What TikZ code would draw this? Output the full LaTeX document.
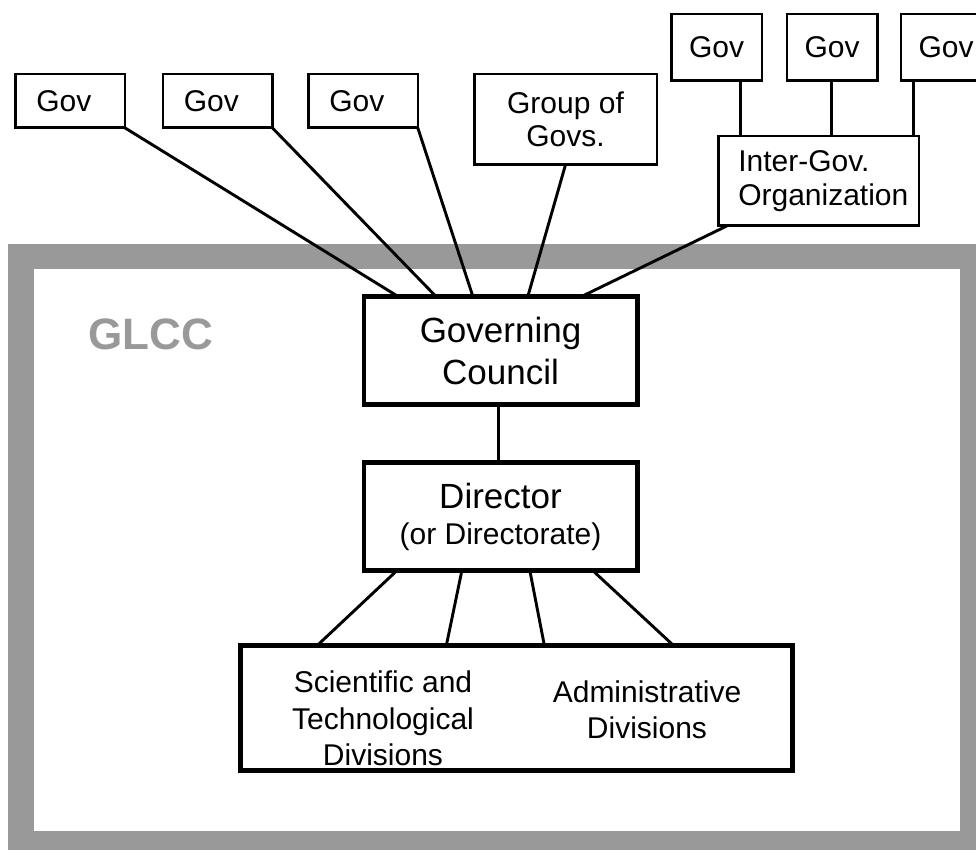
\documentclass[tikz,border=0pt]{standalone}
\usepackage{fontspec}
\setmainfont{Liberation Sans}
\definecolor{glccgray}{RGB}{153,153,153}
\begin{document}
\begin{tikzpicture}[x=1pt,y=-1pt,
  thinbox/.style={draw, line width=2.5pt, fill=white, inner sep=0pt, outer sep=0pt, font=\fontsize{30}{33.5}\selectfont},
  thickbox/.style={draw, line width=4.7pt, fill=white, inner sep=0pt, outer sep=0pt},
  govl/.style={thinbox, minimum height=53.5pt, text width=67.5pt, inner xsep=21pt, align=left},
  govr/.style={thinbox, minimum width=90.5pt, minimum height=66.5pt},
  divtext/.style={align=center, inner sep=0pt, font=\fontsize{30}{36.5}\selectfont},
  conn/.style={line width=2.9pt}]
\useasboundingbox (0,0) rectangle (976,850);
\clip (0,0) rectangle (976,850);
\fill[white] (0,0) rectangle (976,850);
% GLCC frame
\fill[glccgray] (8,244) rectangle (990,870);
\fill[white] (34,269) rectangle (960,831);
\node[anchor=west, inner sep=0pt, text=glccgray, font=\bfseries\fontsize{44}{50}\selectfont] (glcc) at (88,334) {GLCC};
% main boxes
\node[thickbox, minimum width=273.3pt, minimum height=108.3pt, align=center, font=\fontsize{35}{42}\selectfont] (gc) at (500.5,350.5) {Governing\\Council};
\node[thickbox, minimum width=273.3pt, minimum height=108.3pt, align=center, font=\fontsize{35}{36}\selectfont] (dir) at (500.5,516.5) {Director\\{\fontsize{30}{36}\selectfont (or Directorate)}};
\node[thickbox, minimum width=552.3pt, minimum height=125.3pt] (div) at (516.5,708) {};
\node[divtext] (sci) at (383,718.5) {Scientific and\\Technological\\Divisions};
\node[divtext] (adm) at (647,710) {Administrative\\Divisions};
% governments
\node[govl] (g1) at (70,101) {Gov};
\node[govl] (g2) at (217.5,101) {Gov};
\node[govl] (g3) at (363,101) {Gov};
\node[thinbox, minimum width=182.5pt, minimum height=90.5pt, align=center] (g4) at (565.5,119.5) {Group of\\Govs.};
\node[govr] (ga) at (716.5,47.5) {Gov};
\node[govr] (gb) at (832,47.5) {Gov};
\node[govr] (gcc) at (946,47.5) {Gov};
\node[thinbox, minimum height=89.5pt, text width=160.5pt, inner xsep=20pt, align=left] (ig) at (818.5,181) {Inter-Gov.\\Organization};
% connectors to the Governing Council
\draw[conn] (g1.south east) -- ([xshift=34pt]gc.north west);
\draw[conn] (g2.south east) -- ([xshift=72pt]gc.north west);
\draw[conn] (g3.south east) -- ([xshift=109pt]gc.north west);
\draw[conn] (g4.south) -- ([xshift=164pt]gc.north west);
\draw[conn] ([xshift=9pt]ig.south west) -- ([xshift=218pt]gc.north west);
% governments to the inter-governmental organization
\draw[conn] ([xshift=22pt]ig.north west) -- ([xshift=22pt]ig.north west |- ga.south);
\draw[conn] ([xshift=113pt]ig.north west) -- ([xshift=113pt]ig.north west |- gb.south);
\draw[conn] ([xshift=195pt]ig.north west) -- ([xshift=195pt]ig.north west |- gcc.south);
% council to director
\draw[conn] ([xshift=-2pt]gc.south) -- ([xshift=-2pt]dir.north);
% director to divisions
\draw[conn] ([xshift=33pt]dir.south west) -- ([xshift=77pt]div.north west);
\draw[conn] ([xshift=98pt]dir.south west) -- ([xshift=206pt]div.north west);
\draw[conn] ([xshift=166pt]dir.south west) -- ([xshift=304pt]div.north west);
\draw[conn] ([xshift=229pt]dir.south west) -- ([xshift=433pt]div.north west);
\end{tikzpicture}
\end{document}
